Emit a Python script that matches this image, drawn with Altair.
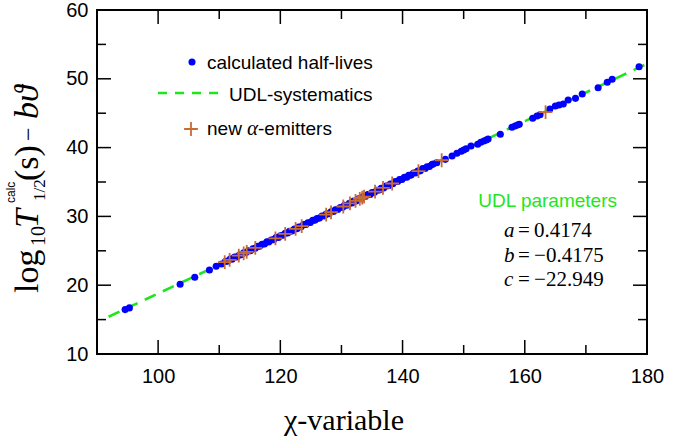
import altair as alt
import pandas as pd

# ---------------- data ----------------
calc_chi = [94.6, 95.3, 103.6, 106.0, 108.4, 109.5, 110.4,
            111.0, 111.4, 111.8, 112.1, 112.5, 112.9, 113.3, 113.6, 114.0, 114.4,
            114.8, 115.1, 115.5, 115.9, 116.3, 116.6, 117.0, 117.4, 117.8, 118.1,
            118.5, 118.9, 119.3, 119.7, 120.0, 120.4, 120.8, 121.2, 121.5, 121.9,
            122.3, 122.7, 123.0, 123.4, 123.8, 124.2, 124.5, 124.9, 125.3, 125.7,
            126.0, 126.4, 126.8, 127.2, 127.5, 127.9, 128.3, 128.7, 129.0, 129.4,
            129.8, 130.2, 130.5, 130.9, 131.3, 131.7, 132.0, 132.4, 132.8, 133.2,
            133.5, 133.9, 134.3, 134.7, 135.0, 135.4, 135.8, 136.2, 136.5, 136.9,
            137.3, 137.7, 138.0, 138.4, 138.8, 139.2, 139.5, 139.9, 140.3, 140.7,
            141.0, 141.4, 141.8, 142.2, 142.5, 142.9, 143.3, 143.7, 144.0, 144.4,
            144.8,
            145.0, 145.6, 147.0, 148.1, 148.9, 149.6, 150.0, 150.4, 151.2, 152.3,
            152.8, 153.3, 153.7, 154.0, 156.0, 157.9, 158.4, 158.8, 159.1, 161.3,
            162.0, 162.5, 164.1, 165.0, 165.6, 166.3, 167.1, 168.3, 169.4, 172.0,
            173.5, 174.3, 178.7]
calc_val = [16.45, 16.70, 20.15, 21.15, 22.20, 22.75, 23.08,
            23.45, 23.50, 23.80, 23.78, 24.10, 24.12, 24.40, 24.42, 24.70, 24.75,
            25.05, 25.02, 25.30, 25.38, 25.65, 25.66, 25.95, 26.00, 26.30, 26.28,
            26.58, 26.62, 26.92, 26.95, 27.20, 27.25, 27.55, 27.58, 27.82, 27.88,
            28.18, 28.20, 28.45, 28.50, 28.80, 28.84, 29.08, 29.12, 29.42, 29.46,
            29.70, 29.75, 30.05, 30.08, 30.33, 30.38, 30.68, 30.70, 30.95, 31.00,
            31.30, 31.34, 31.60, 31.62, 31.92, 31.96, 32.22, 32.25, 32.55, 32.58,
            32.85, 32.88, 33.18, 33.20, 33.46, 33.50, 33.80, 33.84, 34.10, 34.12,
            34.42, 34.46, 34.72, 34.75, 35.05, 35.08, 35.34, 35.38, 35.68, 35.70,
            35.96, 36.00, 36.30, 36.33, 36.60, 36.62, 36.94, 36.96, 37.22, 37.25,
            37.55,
            37.62, 37.81, 38.29, 38.78, 39.17, 39.46, 39.66, 39.84, 40.23, 40.48,
            40.77, 40.96, 41.10, 41.25, 41.93, 42.95, 43.14, 43.28, 43.38, 44.26,
            44.60, 44.78, 45.61, 46.05, 46.19, 46.34, 46.92, 47.16, 47.79, 48.71,
            49.49, 49.93, 51.76]

new_chi = [110.9, 111.7, 113.2, 114.0, 114.5, 115.9, 119.2, 120.8, 122.5, 123.5,
           127.5, 128.3, 130.3, 131.4, 132.3, 133.0, 133.4, 133.7, 135.5, 136.8,
           138.3, 142.6, 146.4, 163.4]
new_val = [23.34, 23.67, 24.30, 24.64, 24.85, 25.43, 26.80, 27.47, 28.18, 28.60,
           30.27, 30.60, 31.44, 31.90, 32.27, 32.56, 32.73, 32.86, 33.61, 34.15,
           34.78, 36.57, 38.16, 45.17]

udl_chi = [91.9, 180.0]
udl_val = [15.41, 52.18]

x_major = [100, 120, 140, 160, 180]
x_minor = [110, 130, 150, 170]
y_major = [10, 20, 30, 40, 50, 60]
y_minor = [15, 25, 35, 45, 55]

# ---------------- style ----------------
W, H = 550, 344
SANS = "Liberation Sans"
SERIF = "Liberation Serif"
GREEN = "#1de61d"
BLUE = "#0000ff"
ORANGE = "#c86c34"

xs = alt.Scale(domain=[90, 180], nice=False, zero=False)
ys = alt.Scale(domain=[10, 60], nice=False, zero=False)

xaxis = alt.Axis(values=x_major, title=None, ticks=False, tickSize=0, domain=False, grid=False,
                 labelFont=SANS, labelFontSize=20, labelColor="black", labelPadding=12,
                 labelFlush=False)
yaxis = alt.Axis(values=y_major, title=None, ticks=False, tickSize=0, domain=False, grid=False,
                 labelFont=SANS, labelFontSize=20, labelColor="black", labelPadding=9)

def X(f):
    return alt.X(f, type="quantitative", scale=xs, axis=xaxis)

def Y(f):
    return alt.Y(f, type="quantitative", scale=ys, axis=yaxis)

calc_df = pd.DataFrame({"chi": calc_chi, "val": calc_val})
new_df = pd.DataFrame({"chi": new_chi, "val": new_val})
udl_df = pd.DataFrame({"chi": udl_chi, "val": udl_val})

line = alt.Chart(udl_df).mark_line(color=GREEN, strokeWidth=2.6, strokeDash=[12, 8]).encode(
    x=X("chi"), y=Y("val"))
dots = alt.Chart(calc_df).mark_circle(color=BLUE, size=50, opacity=1).encode(
    x=X("chi"), y=Y("val"))
PLUS = "M-1,0L1,0M0,-1L0,1"
plus = alt.Chart(new_df).mark_point(shape=PLUS, size=190, filled=False, color=ORANGE,
                                    strokeWidth=1.8, opacity=1).encode(x=X("chi"), y=Y("val"))

# ---------------- ticks (inward, on all four sides) ----------------
def xticks(vals, length):
    d = pd.DataFrame({"v": vals})
    b = alt.Chart(d).mark_rule(color="black", strokeWidth=1.5).encode(
        x=X("v"), y=alt.value(H), y2=alt.value(H - length))
    t = alt.Chart(d).mark_rule(color="black", strokeWidth=1.5).encode(
        x=X("v"), y=alt.value(0), y2=alt.value(length))
    return [b, t]

def yticks(vals, length):
    d = pd.DataFrame({"v": vals})
    l = alt.Chart(d).mark_rule(color="black", strokeWidth=1.5).encode(
        y=Y("v"), x=alt.value(0), x2=alt.value(length))
    r = alt.Chart(d).mark_rule(color="black", strokeWidth=1.5).encode(
        y=Y("v"), x=alt.value(W), x2=alt.value(W - length))
    return [l, r]

ticks = xticks(x_major, 14) + xticks(x_minor, 9) + yticks(y_major, 14) + yticks(y_minor, 9)

# ---------------- text helpers ----------------
one = pd.DataFrame({"k": [0]})

def label(txt, x, y, **kw):
    return alt.Chart(one).mark_text(text=txt, **kw).encode(x=alt.value(x), y=alt.value(y))

texts = []
# legend
texts.append(alt.Chart(one).mark_circle(color=BLUE, size=50, opacity=1).encode(
    x=alt.value(95), y=alt.value(52)))
texts.append(label("calculated half-lives", 110, 58.5, font=SANS, fontSize=19, align="left",
                   baseline="alphabetic", color="black"))
texts.append(alt.Chart(one).mark_rule(color=GREEN, strokeWidth=2.6, strokeDash=[9, 8]).encode(
    x=alt.value(61), x2=alt.value(123), y=alt.value(83)))
texts.append(label("UDL-systematics", 132, 90.5, font=SANS, fontSize=19, align="left",
                   baseline="alphabetic", color="black"))
texts.append(alt.Chart(one).mark_point(shape=PLUS, size=190, filled=False, color=ORANGE,
                                       strokeWidth=1.8, opacity=1).encode(
    x=alt.value(94), y=alt.value(119)))
texts.append(label("new ", 110, 125, font=SANS, fontSize=19, align="left",
                   baseline="alphabetic", color="black"))
texts.append(label("\u03b1", 150, 125, font=SERIF, fontSize=21, fontStyle="italic", align="left",
                   baseline="alphabetic", color="black"))
texts.append(label("-emitters", 161, 125, font=SANS, fontSize=19, align="left",
                   baseline="alphabetic", color="black"))

# UDL parameters
texts.append(label("UDL parameters", 520, 197, font=SANS, fontSize=19, align="right",
                   baseline="alphabetic", color=GREEN))
for var, rest, yb in [("a", "=\u20090.4174", 226.5), ("b", "=\u2009\u22120.4175", 251.5),
                      ("c", "=\u2009\u221222.949", 276)]:
    texts.append(label(var, 407, yb, font=SERIF, fontSize=21, fontStyle="italic", align="left",
                       baseline="alphabetic", color="black"))
    texts.append(label(rest, 421, yb, font=SERIF, fontSize=21, align="left",
                       baseline="alphabetic", color="black"))

# x title
texts.append(label("\u03c7-variable", 247, 420, font=SERIF, fontSize=30, align="center",
                   baseline="alphabetic", color="black"))

# y title (rotated pieces)
def ytxt(txt, x, y, size, font=SERIF, style="normal"):
    return label(txt, x, y, font=font, fontSize=size, fontStyle=style, angle=270,
                 align="left", baseline="alphabetic", color="black")

texts += [
    ytxt("log", -59, 283, 34),
    ytxt("10", -52, 236, 20),
    ytxt("T", -59, 218, 34, style="italic"),
    ytxt("calc", -82, 193, 12, font=SANS),
    ytxt("1/2", -52, 191, 17),
    ytxt("(s)", -59, 171, 34),
    ytxt("\u2212", -61.5, 131, 24),
    ytxt("b\u03d1", -59, 109, 34, style="italic"),
]

chart = alt.layer(line, dots, plus, *ticks, *texts).properties(
    width=W, height=H,
    padding={"left": 97, "top": 10, "right": 42, "bottom": 88},
    autosize=alt.AutoSizeParams(type="none"),
    background="white",
).configure_view(stroke="black", strokeWidth=2)

chart.save("out.html", embed_options={"renderer": "svg", "actions": False})
